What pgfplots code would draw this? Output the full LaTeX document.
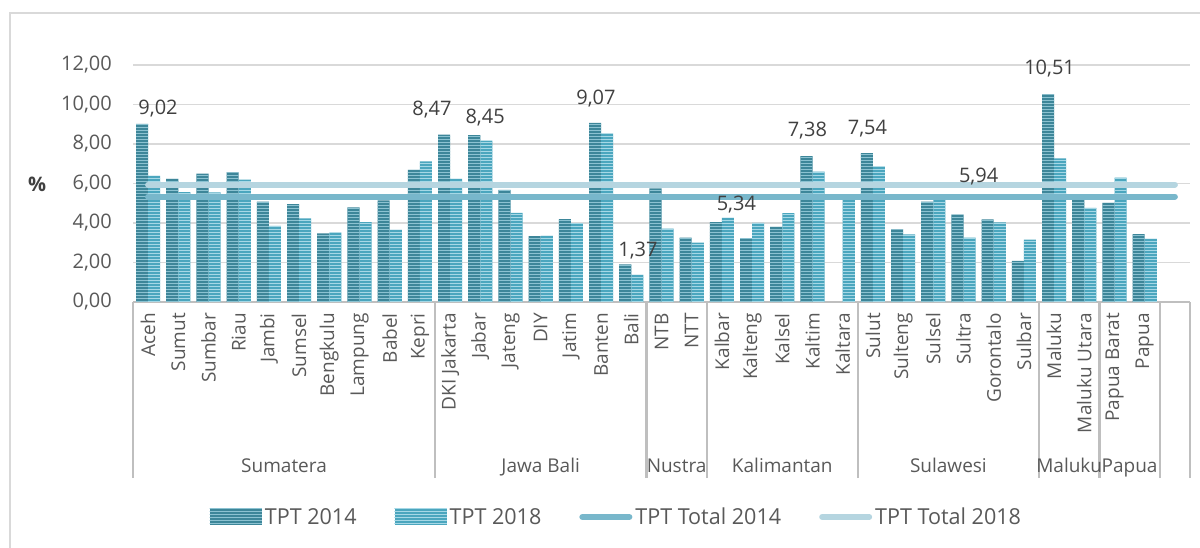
\documentclass[border=0pt]{standalone}
\usepackage{fontspec}
\setmainfont{Open Sans}
\newfontfamily\legfont[FakeStretch=0.98]{Open Sans}
\usepackage{pgfplots}
\pgfplotsset{compat=1.18}
\usepackage{pgfplotstable}
\usetikzlibrary{patterns}
\definecolor{c14}{HTML}{3D8699}
\definecolor{c14s}{HTML}{8CC2D1}
\definecolor{c18}{HTML}{4BA6BE}
\definecolor{c18s}{HTML}{A6D8E6}
\definecolor{l14}{HTML}{78B7CB}
\definecolor{l18}{HTML}{B5D5E0}
\definecolor{gridc}{HTML}{D9D9D9}
\definecolor{axc}{HTML}{BFBFBF}
\definecolor{txt}{HTML}{404040}
\definecolor{tickc}{HTML}{595959}

\pgfdeclarepatternformonly{hstripes}{\pgfpoint{0bp}{0bp}}{\pgfpoint{60bp}{3bp}}{\pgfpoint{60bp}{3bp}}{%
  \pgfpathrectangle{\pgfpoint{-1bp}{0bp}}{\pgfpoint{62bp}{1.1bp}}\pgfusepath{fill}}

\pgfplotstableread{
x y14 y18 t14 t18
0 9.02 6.38 5.34 5.94
1 6.23 5.56 5.34 5.94
2 6.50 5.55 5.34 5.94
3 6.56 6.20 5.34 5.94
4 5.08 3.86 5.34 5.94
5 4.96 4.23 5.34 5.94
6 3.47 3.51 5.34 5.94
7 4.79 4.04 5.34 5.94
8 5.14 3.65 5.34 5.94
9 6.69 7.12 5.34 5.94
10 8.47 6.24 5.34 5.94
11 8.45 8.17 5.34 5.94
12 5.68 4.51 5.34 5.94
13 3.33 3.35 5.34 5.94
14 4.19 3.99 5.34 5.94
15 9.07 8.52 5.34 5.94
16 1.90 1.37 5.34 5.94
17 5.75 3.72 5.34 5.94
18 3.26 3.01 5.34 5.94
19 4.04 4.26 5.34 5.94
20 3.24 4.01 5.34 5.94
21 3.80 4.50 5.34 5.94
22 7.38 6.60 5.34 5.94
23 nan 5.22 5.34 5.94
24 7.54 6.86 5.34 5.94
25 3.68 3.43 5.34 5.94
26 5.08 5.34 5.34 5.94
27 4.43 3.26 5.34 5.94
28 4.18 4.03 5.34 5.94
29 2.08 3.16 5.34 5.94
30 10.51 7.27 5.34 5.94
31 5.29 4.77 5.34 5.94
32 5.02 6.30 5.34 5.94
33 3.44 3.20 5.34 5.94
34 nan nan 5.34 5.94
}\data

\newcommand{\fs}[1]{\fontsize{#1}{#1}\selectfont}

\begin{document}
\begin{tikzpicture}
\path[use as bounding box] (0,0) rectangle (1200bp,548bp);
\draw[gridc, line width=1.2bp] (10bp,0) -- (10bp,535bp) -- (1200bp,535bp);
\begin{axis}[
  at={(133bp,246bp)}, anchor=south west,
  width=1057bp, height=237bp, scale only axis,
  xmin=-0.5, xmax=34.5, ymin=0, ymax=12,
  clip=false,
  axis lines*=left,
  y axis line style={draw=none},
  x axis line style={axc, line width=2.5bp},
  ymajorgrids, grid style={gridc, line width=1.3bp},
  ytick={0,2,...,12},
  ytick style={draw=none},
  yticklabel style={font=\fs{20bp}, text=tickc, inner sep=0pt, anchor=east, xshift=-21bp},
  /pgf/number format/assume math mode=true,
  yticklabel={\pgfmathprintnumber[fixed, fixed zerofill, precision=2, use comma]{\tick}},
  xtick={0,...,33},
  xticklabels={Aceh,Sumut,Sumbar,Riau,Jambi,Sumsel,Bengkulu,Lampung,Babel,Kepri,DKI Jakarta,Jabar,Jateng,DIY,Jatim,Banten,Bali,NTB,NTT,Kalbar,Kalteng,Kalsel,Kaltim,Kaltara,Sulut,Sulteng,Sulsel,Sultra,Gorontalo,Sulbar,Maluku,Maluku Utara,Papua Barat,Papua},
  major tick length=0pt,
  xticklabel style={rotate=90, anchor=east, inner sep=0pt, font=\fs{19bp}, text=tickc, xshift=-11bp},
  extra x ticks={-0.5,9.5,16.5,18.5,23.5,29.5,31.5,33.5,34.5},
  extra x tick labels={},
  extra x tick style={major tick length=176bp, tick align=outside, tick style={draw=axc, line width=2.5bp}},
  every axis y label/.style={at={(axis description cs:-0.0908,0.498)}, anchor=center},
  ylabel={\fs{20bp}\bfseries\color{txt}\%},
  legend columns=4,
  legend style={at={(axis description cs:0.4574,-0.907)}, anchor=center, draw=none, fill=none,
    font=\legfont\fs{22bp}, text=tickc, inner sep=0pt,
    /tikz/every even column/.append style={column sep=36bp},
    /tikz/every odd column/.append style={column sep=1bp}},
]
\addplot[ybar, bar width=0.4, bar shift=-0.2, fill=c14, draw=none,
  postaction={pattern=hstripes, pattern color=c14s},
  legend image code/.code={\fill[c14] (0bp,-8bp) rectangle (52bp,8bp);
    \fill[pattern=hstripes, pattern color=c14s] (0bp,-8bp) rectangle (52bp,8bp);}]
  table[x=x, y=y14] {\data};
\addlegendentry{TPT 2014}
\addplot[ybar, bar width=0.4, bar shift=0.2, fill=c18, draw=none,
  postaction={pattern=hstripes, pattern color=c18s},
  legend image code/.code={\fill[c18] (0bp,-8bp) rectangle (52bp,8bp);
    \fill[pattern=hstripes, pattern color=c18s] (0bp,-8bp) rectangle (52bp,8bp);}]
  table[x=x, y=y18] {\data};
\addlegendentry{TPT 2018}
\addplot[l14, line width=6bp, line cap=round, no marks,
  legend image code/.code={\draw[l14, line width=6bp, line cap=round] (3bp,0) -- (50bp,0);}]
  table[x=x, y=t14] {\data};
\addlegendentry{TPT Total 2014}
\addplot[l18, line width=6bp, line cap=round, no marks,
  legend image code/.code={\draw[l18, line width=6bp, line cap=round] (3bp,0) -- (50bp,0);}]
  table[x=x, y=t18] {\data};
\addlegendentry{TPT Total 2018}

\begin{scope}[every node/.style={font=\fs{20bp}, text=txt, inner sep=0pt}]
\node at (axis cs:0.33,9.78) {9,02};
\node at (axis cs:9.4,9.73) {8,47};
\node at (axis cs:11.16,9.34) {8,45};
\node at (axis cs:14.83,10.32) {9,07};
\node at (axis cs:16.22,2.62) {1,37};
\node at (axis cs:19.48,4.94) {5,34};
\node at (axis cs:21.83,8.68) {7,38};
\node at (axis cs:23.82,8.80) {7,54};
\node at (axis cs:27.5,6.35) {5,94};
\node at (axis cs:29.85,11.80) {10,51};
\end{scope}

\begin{scope}[every node/.style={font=\fs{19bp}, text=tickc, inner sep=0pt, anchor=base, yshift=-170bp}]
\node at (axis cs:4.5,0) {Sumatera};
\node at (axis cs:13,0) {Jawa Bali};
\node at (axis cs:17.5,0) {Nustra};
\node at (axis cs:21,0) {Kalimantan};
\node at (axis cs:26.5,0) {Sulawesi};
\node at (axis cs:30.5,0) {Maluku};
\node at (axis cs:32.5,0) {Papua};
\end{scope}
\end{axis}
\end{tikzpicture}
\end{document}
